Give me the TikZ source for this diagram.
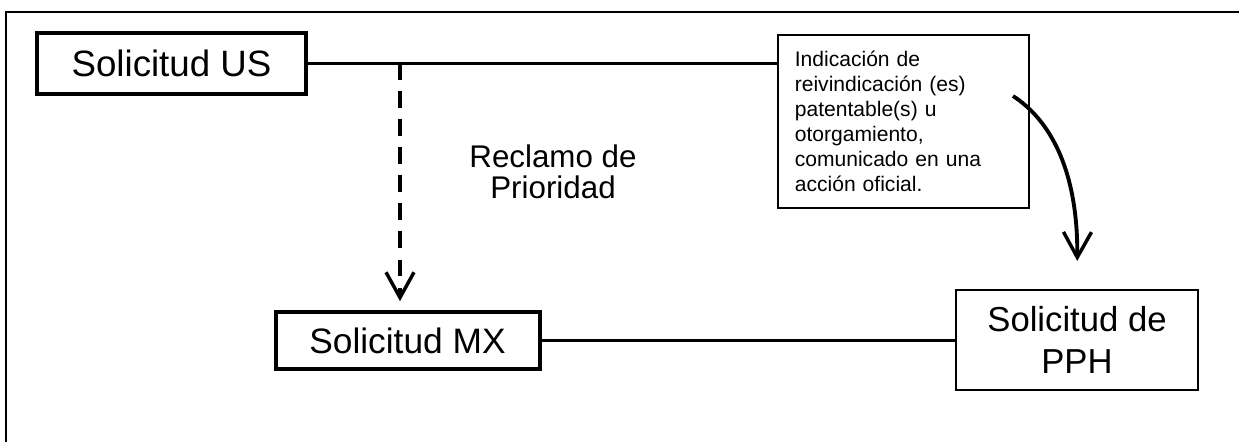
\documentclass[tikz,border=0pt]{standalone}
\usepackage{fontspec}
\setmainfont{Liberation Sans}
\usetikzlibrary{arrows.meta}
\begin{document}
\begin{tikzpicture}[x=0.75pt,y=-0.75pt]
\tikzset{
  thickbox/.style={draw, line width=3pt, inner sep=0pt},
  thinbox/.style={draw, line width=1.6pt, inner sep=0pt},
  conn/.style={line width=2.9pt},
  vtip/.style={-{Straight Barb[length=19pt,width=21pt,line width=2.6pt]}},
}
\useasboundingbox (0,0) rectangle (1239,442);
% frame
\draw[line width=1.6pt] (6,442) -- (6,12) -- (1239,12);
% nodes
\node[thickbox, minimum width=202pt, minimum height=46pt,
      font=\fontsize{27.5pt}{33pt}\selectfont] (us) at (171.5,63.5) {Solicitud US};
\node[thickbox, minimum width=198pt, minimum height=43pt,
      font=\fontsize{26.5pt}{32pt}\selectfont] (mx) at (407.5,340.5) {Solicitud MX};
\node[thinbox, minimum width=181.5pt, minimum height=75pt, align=center,
      font=\fontsize{26pt}{31.5pt}\selectfont] (pph) at (1077,340) {Solicitud de\\PPH};
\node[thinbox, minimum width=188pt, minimum height=130pt, text width=163pt, align=left,
      font=\fontsize{15.8pt}{18.75pt}\selectfont] (tb) at (903.5,121.5)
      {Indicación de\\reivindicación (es)\\patentable(s) u\\otorgamiento,\\comunicado en una\\acción oficial.};
\node[align=center, font=\fontsize{23.5pt}{23.5pt}\selectfont] (rp) at (553,172)
      {Reclamo de\\Prioridad};
% connectors
\draw[conn] (us.east) -- (us.east -| tb.west);
\draw[conn] (mx.east) -- (mx.east -| pph.west);
\coordinate (d) at (400,63.5);
\draw[conn, vtip, dash pattern=on 12.5pt off 8.5pt, shorten >=6.5pt] (d) -- (d |- mx.north);
\coordinate (cs) at (1013,96);
\draw[conn, vtip, shorten >=21pt] (cs) .. controls (1050,120) and (1078,170) .. (pph.north);
\end{tikzpicture}
\end{document}
